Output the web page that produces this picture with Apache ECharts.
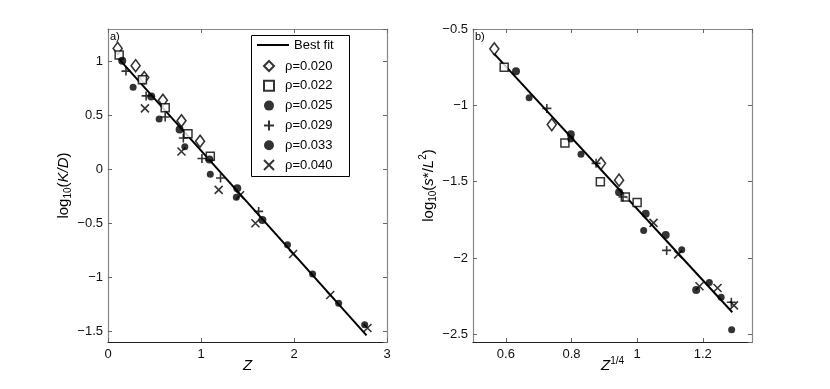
<!DOCTYPE html>
<html>
<head>
<meta charset="utf-8">
<script src="https://cdn.jsdelivr.net/npm/echarts@6/dist/echarts.min.js"></script>
<style>
  html, body { margin: 0; padding: 0; background: #fff; }
  #stage { width: 830px; height: 389px; }
</style>
</head>
<body>
<div id="stage"></div>
<script>
'use strict';

const FONT = '"Liberation Sans", Arial, sans-serif';
const NAMES = ['\u03c1=0.020', '\u03c1=0.022', '\u03c1=0.025', '\u03c1=0.029', '\u03c1=0.033', '\u03c1=0.040'];

// panel a) : log10(K/D) against Z
const fitA = [[0.11, 1.03], [2.78, -1.538]];
const a020 = [[0.104, 1.12], [0.297, 0.96], [0.39, 0.85], [0.59, 0.64], [0.79, 0.45], [0.99, 0.26]];
const a022 = [[0.12, 1.06], [0.37, 0.83], [0.615, 0.57], [0.86, 0.33], [1.10, 0.12]];
const a025 = [[0.153, 1.005], [0.465, 0.675], [0.77, 0.37], [1.09, 0.09], [1.39, -0.175], [1.66, -0.47]];
const a029 = [[0.193, 0.91], [0.41, 0.68], [0.615, 0.485], [0.81, 0.29], [1.01, 0.10], [1.21, -0.08], [1.62, -0.39]];
const a033 = [[0.27, 0.76], [0.55, 0.465], [0.826, 0.21], [1.10, -0.045], [1.38, -0.26], [1.93, -0.70], [2.20, -0.97], [2.48, -1.24], [2.76, -1.44]];
const a040 = [[0.397, 0.565], [0.79, 0.165], [1.19, -0.19], [1.42, -0.24], [1.585, -0.50], [1.99, -0.785], [2.39, -1.165], [2.79, -1.47]];

// panel b) : log10(s*/L^2) against Z^(1/4)
const fitB = [[0.562, -0.656], [1.29, -2.355]];
const b020 = [[0.565, -0.63], [0.74, -1.126], [0.89, -1.38], [0.945, -1.49]];
const b022 = [[0.595, -0.75], [0.78, -1.246], [0.888, -1.50], [0.964, -1.60], [1.0, -1.636]];
const b025 = [[0.631, -0.776], [0.798, -1.19], [0.945, -1.57], [1.026, -1.71], [1.087, -1.85], [1.18, -2.21]];
const b029 = [[0.725, -1.02], [0.875, -1.38], [0.957, -1.60], [1.09, -1.95], [1.287, -2.29]];
const b033 = [[0.671, -0.95], [0.798, -1.22], [0.829, -1.32], [1.02, -1.82], [1.136, -1.946], [1.22, -2.16], [1.256, -2.257], [1.288, -2.47]];
const b040 = [[1.05, -1.77], [1.125, -1.976], [1.19, -2.185], [1.245, -2.196], [1.295, -2.31]];

// marker styles, one per rho
const MARKS = [
  { symbol: 'diamond', symbolSize: [9, 12], itemStyle: { color: '#fff', borderColor: '#000', borderWidth: 1.6 } },
  { symbol: 'rect', symbolSize: 8, itemStyle: { color: '#fff', borderColor: '#000', borderWidth: 1.5 } },
  { symbol: 'circle', symbolSize: 8, itemStyle: { color: '#000' } },
  { symbol: 'path://M0,5L10,5M5,0L5,10', symbolSize: 9, itemStyle: { color: '#000', borderColor: '#000', borderWidth: 1.6 } },
  { symbol: 'circle', symbolSize: 7, itemStyle: { color: '#000' } },
  { symbol: 'path://M0,0L10,10M10,0L0,10', symbolSize: 8, itemStyle: { color: '#000', borderColor: '#000', borderWidth: 1.6 } }
];

const minus = v => String(v).replace('-', '\u2212');

const richName = {
  a: { fontSize: 15, fontFamily: FONT, color: '#000', lineHeight: 20 },
  i: { fontSize: 15, fontFamily: FONT, fontStyle: 'italic', color: '#000', lineHeight: 20 },
  s: { fontSize: 10, fontFamily: FONT, color: '#000', verticalAlign: 'bottom', lineHeight: 10 },
  p: { fontSize: 10, fontFamily: FONT, color: '#000', verticalAlign: 'top', lineHeight: 10 }
};

const tick = { inside: true, length: 4, lineStyle: { color: '#666' } };

function xAxisFor(grid, min, max, name, opts) {
  return [Object.assign({
    gridIndex: grid, type: 'value', min: min, max: max, position: 'bottom',
    name: name, nameLocation: 'middle', nameGap: 14, nameMoveOverlap: false,
    nameTextStyle: { rich: richName, verticalAlign: 'top' },
    axisLine: { onZero: false, lineStyle: { color: '#222', width: 1.2 } },
    axisTick: tick,
    axisLabel: { fontFamily: FONT, fontSize: 13, color: '#111', margin: 6, formatter: minus,
      showMinLabel: opts.ends, showMaxLabel: opts.ends },
    splitLine: { show: false }
  }, opts.scale), Object.assign({
    gridIndex: grid, type: 'value', min: min, max: max, position: 'top',
    axisLine: { onZero: false, lineStyle: { color: '#888', width: 1.2 } },
    axisTick: tick,
    axisLabel: { show: false },
    splitLine: { show: false }
  }, opts.scale)];
}

function yAxisFor(grid, min, max, name, showTop) {
  return [{
    gridIndex: grid, type: 'value', min: min, max: max, position: 'left',
    name: name, nameLocation: 'middle', nameGap: 34, nameRotate: 90,
    nameTextStyle: { rich: richName },
    splitNumber: 5,
    axisLine: { onZero: false, lineStyle: { color: '#888', width: 1.2 } },
    axisTick: tick,
    axisLabel: { fontFamily: FONT, fontSize: 13, color: '#111', margin: 5, formatter: minus,
      showMinLabel: false, showMaxLabel: showTop },
    splitLine: { show: false }
  }, {
    gridIndex: grid, type: 'value', min: min, max: max, position: 'right',
    splitNumber: 5,
    axisLine: { onZero: false, lineStyle: { color: '#888', width: 1.2 } },
    axisTick: tick,
    axisLabel: { show: false },
    splitLine: { show: false }
  }];
}

const xa = xAxisFor(0, 0, 3, '{i|Z}', { ends: true, scale: { interval: 1 } });
const xb = xAxisFor(1, 0.5, 1.35, '{i|Z}{p|1/4}', { ends: false, scale: { splitNumber: 5 } });
const ya = yAxisFor(0, -1.6, 1.3, '{a|log}{s|10}{a|(}{i|K/D}{a|)}', false);
const yb = yAxisFor(1, -2.55, -0.5, '{a|log}{s|10}{a|(}{i|s}{a|*/}{i|L}{p|2}{a|)}', true);

function fitSeries(xi, yi, data) {
  return {
    name: 'Best fit', type: 'line', xAxisIndex: xi, yAxisIndex: yi,
    data: data, symbol: 'none', itemStyle: { color: '#000' },
    lineStyle: { color: '#000', width: 2 }, z: 2
  };
}

function markSeries(k, xi, yi, data) {
  return Object.assign({
    name: NAMES[k], type: 'scatter', xAxisIndex: xi, yAxisIndex: yi, data: data, z: 3
  }, MARKS[k]);
}

const setA = [a020, a022, a025, a029, a033, a040];
const setB = [b020, b022, b025, b029, b033, b040];

let series = [fitSeries(0, 0, fitA), fitSeries(2, 2, fitB)];
for (let k = 0; k < NAMES.length; k++) {
  series.push(markSeries(k, 0, 0, setA[k]));
  series.push(markSeries(k, 2, 2, setB[k]));
}

const legendText = { fontFamily: FONT, fontSize: 13, color: '#000', lineHeight: 14 };

const option = {
  backgroundColor: '#fff',
  animation: false,
  grid: [
    { left: 108, right: 443, top: 29, bottom: 47 },
    { left: 473, right: 78, top: 29, bottom: 47 }
  ],
  xAxis: xa.concat(xb),
  yAxis: ya.concat(yb),
  legend: [{
    orient: 'vertical', left: 257, top: 38, padding: 0,
    data: [{ name: 'Best fit', icon: 'rect' }],
    itemWidth: 32, itemHeight: 2,
    textStyle: legendText
  }, {
    orient: 'vertical', left: 263, top: 59, padding: 0,
    data: NAMES,
    itemWidth: 10, itemHeight: 10, itemGap: 5.8,
    textStyle: Object.assign({ padding: [0, 0, 0, 6] }, legendText)
  }],
  graphic: [
    { type: 'rect', shape: { x: 251.5, y: 35.5, width: 98, height: 141 },
      style: { fill: 'none', stroke: '#000', lineWidth: 1 }, z: 10 },
    { type: 'text', left: 110, top: 31, style: { text: 'a)', font: '11px ' + FONT, fill: '#000' } },
    { type: 'text', left: 475, top: 31, style: { text: 'b)', font: '11px ' + FONT, fill: '#000' } }
  ],
  series: series
};

const myChart = echarts.init(document.getElementById('stage'));
myChart.setOption(option);
</script>
</body>
</html>
